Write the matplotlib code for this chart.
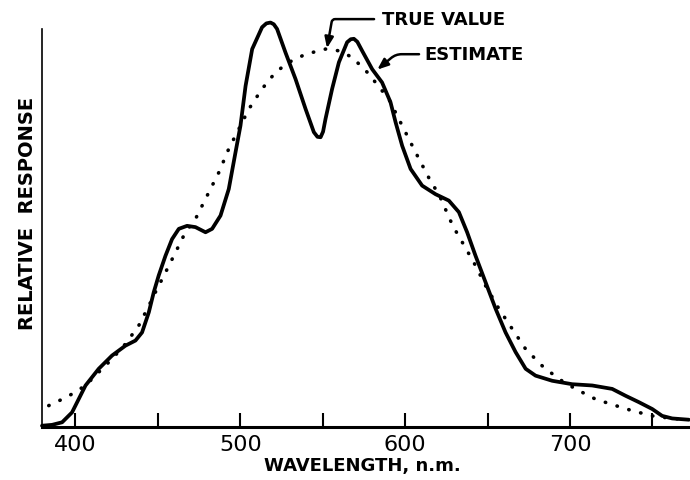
import matplotlib
matplotlib.use("Agg")
import matplotlib.pyplot as plt

# Wavelength (nm) and relative response
est_nm = [379.7, 385.8, 391.9, 397.9, 406.1, 414.1, 422.2, 430.3, 436.4, 440.4,
          444.5, 447.5, 450.5, 454.6, 458.6, 462.7, 467.7, 472.8, 478.9, 482.9,
          488.0, 493.0, 497.1, 500.1, 503.2, 507.2, 513.2, 515.8, 518.3, 520.3,
          522.3, 527.4, 533.5, 539.6, 544.6, 546.8, 548.7, 550.2, 551.7, 555.7,
          559.8, 564.8, 567.0, 568.9, 571.0, 573.9, 580.0, 586.0, 591.1, 594.2,
          598.2, 603.3, 610.3, 618.4, 626.5, 632.6, 637.6, 642.7, 648.8, 654.9,
          660.9, 667.0, 673.1, 679.1, 689.2, 701.3, 713.5, 725.6, 733.7, 741.8,
          749.9, 755.9, 762.0, 772.1]
est_val = [0.003, 0.005, 0.011, 0.034, 0.097, 0.136, 0.167, 0.190, 0.202, 0.221,
           0.268, 0.315, 0.354, 0.400, 0.439, 0.463, 0.470, 0.467, 0.455, 0.463,
           0.494, 0.556, 0.642, 0.704, 0.797, 0.883, 0.934, 0.943, 0.945, 0.941,
           0.930, 0.875, 0.813, 0.743, 0.689, 0.678, 0.677, 0.690, 0.720, 0.790,
           0.852, 0.899, 0.906, 0.907, 0.900, 0.879, 0.836, 0.805, 0.759, 0.712,
           0.657, 0.603, 0.564, 0.544, 0.529, 0.502, 0.455, 0.400, 0.338, 0.276,
           0.221, 0.175, 0.136, 0.120, 0.108, 0.100, 0.097, 0.089, 0.073, 0.058,
           0.042, 0.026, 0.020, 0.017]

true_nm = [383.8, 389.9, 397.9, 406.1, 414.1, 422.2, 430.3, 438.4, 444.5, 448.5,
           454.6, 460.7, 466.7, 472.8, 478.9, 487.0, 493.0, 499.1, 505.2, 513.2,
           521.4, 529.4, 539.6, 551.7, 559.8, 567.8, 578.0, 582.0, 590.1, 598.2,
           606.3, 614.8, 620.9, 628.9, 637.0, 642.7, 648.8, 656.9, 665.0, 673.1,
           683.1, 693.3, 703.4, 715.5, 727.7, 737.8, 749.9, 762.0, 772.1]
true_val = [0.050, 0.061, 0.077, 0.097, 0.128, 0.159, 0.194, 0.237, 0.283, 0.315,
            0.361, 0.408, 0.455, 0.486, 0.533, 0.595, 0.650, 0.696, 0.743, 0.790,
            0.829, 0.852, 0.871, 0.883, 0.879, 0.864, 0.825, 0.805, 0.766, 0.704,
            0.642, 0.579, 0.540, 0.470, 0.416, 0.377, 0.330, 0.276, 0.229, 0.182,
            0.143, 0.112, 0.089, 0.065, 0.050, 0.038, 0.026, 0.020, 0.017]

tick_pos = [400, 450, 500, 550, 600, 650, 700, 750]
tick_lbl = ["400", "", "500", "", "600", "", "700", ""]

fig = plt.figure(figsize=(6.9, 4.81), dpi=100)
ax = fig.add_axes([42/690, 53/481, 648/690, 428/481])
ax.set_xlim(379.7, 772.8)
ax.set_ylim(0, 1)

ax.plot(est_nm, est_val, color="black", lw=2.7, solid_capstyle="round",
        solid_joinstyle="round", clip_on=False, zorder=3)
ax.plot(true_nm, true_val, color="black", lw=2.6, linestyle=(0, (0.1, 3.3)),
        dash_capstyle="round", clip_on=False, zorder=2)

for s in ["top", "right"]:
    ax.spines[s].set_visible(False)
ax.spines["bottom"].set_linewidth(2.2)
ax.spines["left"].set_linewidth(1.2)
ax.spines["left"].set_bounds(0, 0.93)

ax.set_yticks([])
ax.set_xticks(tick_pos)
ax.set_xticklabels(tick_lbl)
ax.tick_params(axis="x", direction="in", length=10, width=1.5, pad=5,
               labelsize=16)

ax.set_xlabel("WAVELENGTH, n.m.", fontsize=13, fontweight="bold", va="center")
ax.xaxis.set_label_coords(0.495, -0.089)
ax.set_ylabel("RELATIVE  RESPONSE", fontsize=14, fontweight="bold", va="center")
ax.yaxis.set_label_coords(-0.023, 0.502)

ax.annotate("TRUE VALUE", xy=(552.6, 0.885), xytext=(586.2, 0.953),
            fontsize=13, fontweight="bold", ha="left", va="center",
            arrowprops=dict(arrowstyle="-|>,head_length=0.5,head_width=0.2",
                            color="black", lw=1.8, shrinkA=4, shrinkB=0,
                            connectionstyle="angle,angleA=180,angleB=80,rad=3"))
ax.annotate("ESTIMATE", xy=(583.1, 0.835), xytext=(611.8, 0.871),
            fontsize=13, fontweight="bold", ha="left", va="center",
            arrowprops=dict(arrowstyle="-|>,head_length=0.5,head_width=0.2",
                            color="black", lw=1.8, shrinkA=2, shrinkB=0,
                            connectionstyle="angle,angleA=180,angleB=40,rad=6"))

fig.savefig("out.png", dpi=100)
